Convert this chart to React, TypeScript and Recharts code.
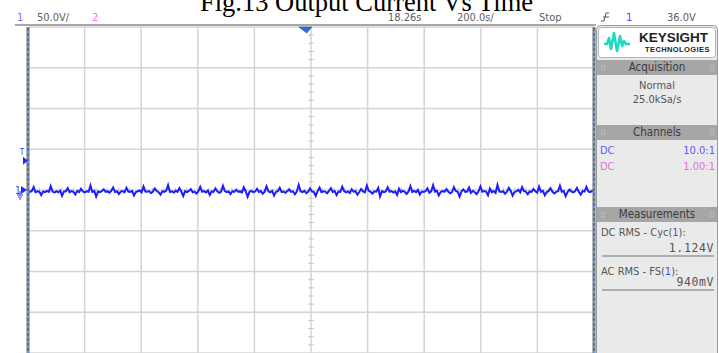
import { LineChart, Line, CartesianGrid, XAxis, YAxis, ReferenceLine, ReferenceDot } from 'recharts';

// scope settings
const timeTicks = [-1000, -800, -600, -400, -200, 0, 200, 400, 600, 800, 1000];
const voltTicks = [-200, -150, -100, -50, 0, 50, 100, 150, 200];
const triggerLevel = 36;
const triggerDelay = -18.26;

// channel 1 trace (V) left to right
const ch1Volts = [
  -1.8, -2.4, -1.2, 3.6, -2.9, -1.5, -2.1, -6.2, -1.7, -2.6,
  -1.0, -2.3, 4.8, -1.9, -3.1, -1.4, -2.7, -0.9, -7.1, -2.0,
  -1.6, 2.2, -2.8, -1.3, -2.2, -5.4, -1.1, -2.5, 1.4, -1.8,
  -3.0, -1.5, -2.1, 5.6, -2.4, -1.2, -8.0, -1.9, -2.6, -1.4,
  0.9, -2.2, -1.7, -3.3, -1.0, 3.1, -2.5, -1.6, -4.9, -2.0,
  -1.3, -2.8, 2.6, -1.9, -2.3, -1.1, -6.6, -2.4, -1.5, -0.6,
  -2.9, 4.2, -1.8, -2.1, -1.4, -3.8, -2.0, 1.8, -1.2, -2.7,
  -5.8, -1.6, -2.3, -0.8, 6.0, -2.5, -1.7, -3.2, -1.0, -2.2,
  2.4, -1.9, -7.5, -1.4, -2.6, -1.1, 1.1, -2.8, -2.0, -4.4,
  -1.5, 3.9, -2.2, -1.3, -2.9, -0.7, -6.1, -1.8, -2.4, 2.0,
  -1.6, -3.5, -2.1, 5.1, -1.2, -2.7, -1.9, -5.0, -1.4, -2.3,
  0.4, -2.0, -1.7, -3.0, 3.3, -1.5, -8.4, -2.2, -1.1, -2.6,
  -1.8, 1.5, -2.4, -1.3, -4.6, -2.0, 4.5, -1.6, -2.8, -1.0,
  -6.9, -2.1, -1.4, 2.8, -2.5, -1.9, -3.4, -1.2, 0.6, -2.3,
  -1.7, -5.2, -2.0, 6.4, -1.5, -2.6, -1.1, -3.9, -2.2, 1.9,
  -1.8, -2.4, -7.3, -1.3, 3.0, -2.7, -1.6, -2.0, -4.1, -1.0,
  2.3, -2.5, -1.4, -6.3, -1.9, -2.2, 4.0, -1.2, -2.8, -1.7,
  -3.6, 0.8, -2.1, -1.5, -5.7, -2.4, 1.3, -1.8, -2.9, 5.4,
  -1.1, -2.3, -4.3, -1.6, -2.0, 2.5, -7.8, -1.4, -2.6, -1.9,
  3.4, -2.2, -1.3, -3.1, -1.7, -6.0, 1.6, -2.5, -1.0, -2.1,
  -4.7, -1.8, 4.7, -2.4, -1.2, -2.7, 0.2, -5.5, -1.9, -2.3,
  -1.5, 2.1, -3.3, -1.6, 5.8, -2.0, -1.1, -6.8, -2.6, -1.4,
  -2.2, 1.0, -1.8, -4.0, -2.5, 3.7, -1.3, -2.1, -8.1, -1.7,
  0.7, -2.4, -1.9, 2.9, -3.5, -1.0, -2.8, -5.1, -1.6, 4.4,
  -2.2, -1.4, -2.0, -6.5, 1.7, -2.7, -1.2, -3.7, 6.2, -1.8,
  -2.3, -1.5, -4.5, -2.1, 2.7, -1.1, -7.0, -2.5, -1.7, 0.3,
  -2.9, 3.5, -1.3, -2.0, -5.3, -1.8, -2.4, 1.2, -1.6, -3.2,
  4.1, -2.2, -1.0, -6.4, -2.6, -1.4, 2.2, -1.9, -4.2, -2.3,
  -1.5, 5.3, -2.1, -1.2, -7.6, -2.7, 0.5, -1.8, -3.0, -1.6,
  2.6, -2.4, -5.6, -1.3, -2.0, 3.8, -1.7, -2.5, -1.1, -2.2,
];

const data = ch1Volts.map((v, i) => ({ t: -1000 + (i * 2000) / (ch1Volts.length - 1), v }));

// 5 minor ticks per division on the centre cross
const minorT: number[] = [];
for (let i = 0; i < timeTicks.length - 1; i++) for (let k = 1; k < 5; k++) minorT.push(timeTicks[i] + (k * 200) / 5);
const minorV: number[] = [];
for (let i = 0; i < voltTicks.length - 1; i++) for (let k = 1; k < 5; k++) minorV.push(voltTicks[i] + (k * 50) / 5);

const scopeFont = "'DejaVu Sans Condensed', 'Liberation Sans Narrow', 'DejaVu Sans', sans-serif";
const monoFont = "'DejaVu Sans Mono', 'Liberation Mono', monospace";

const GroundMarker = (p: any) => (
  <g>
    <text x={p.cx - 13} y={p.cy + 4} fontSize={10} fill="#3b3bff" fontFamily={scopeFont}>1</text>
    <path d={`M${p.cx - 7},${p.cy - 4} L${p.cx - 1},${p.cy} L${p.cx - 7},${p.cy + 4} Z`} fill="#2525ff" />
    <path d={`M${p.cx - 8},${p.cy + 1} L${p.cx - 8},${p.cy + 5} M${p.cx - 11},${p.cy + 5} L${p.cx - 5},${p.cy + 5} M${p.cx - 10},${p.cy + 7} L${p.cx - 6},${p.cy + 7} M${p.cx - 9},${p.cy + 9} L${p.cx - 7},${p.cy + 9}`} stroke="#3b3bff" strokeWidth={1} />
  </g>
);

const TriggerMarker = (p: any) => (
  <g>
    <text x={p.cx - 6} y={p.cy - 6} fontSize={8} fill="#3b3bff" fontFamily={scopeFont} textAnchor="middle">T</text>
    <path d={`M${p.cx - 5},${p.cy - 4} L${p.cx},${p.cy} L${p.cx - 5},${p.cy + 4} Z`} fill="#2525ff" />
  </g>
);

const DelayMarker = (p: any) => (
  <path d={`M${p.cx - 7},${p.cy} L${p.cx + 6},${p.cy} L${p.cx + 1},${p.cy + 6} Z`} fill="#2f6fe0" stroke="#1f4fb0" strokeWidth={0.6} />
);

function Header({ y, label }: { y: number; label: string }) {
  return (
    <g>
      <rect x={597} y={y} width={120} height={15} fill="#a6a6a6" />
      <text x={603} y={y + 11} fontSize={8} fill="#c9c9c9" fontFamily="'DejaVu Sans'" textAnchor="middle">⠿</text>
      <text x={712} y={y + 11} fontSize={8} fill="#c9c9c9" fontFamily="'DejaVu Sans'" textAnchor="middle">⠿</text>
      <text x={657} y={y + 11} fontSize={11.5} fill="#3c3c3c" fontFamily={scopeFont} textAnchor="middle">{label}</text>
    </g>
  );
}

function Overlay() {
  const t = { fontFamily: scopeFont, fontSize: 11 };
  return (
    <svg width={719} height={353} style={{ position: 'absolute', left: 0, top: 0, pointerEvents: 'none' }}>
      <text x={200} y={11} fontFamily="'Liberation Serif', 'Times New Roman', serif" fontSize={26.5} fill="#000">Fig.13 Output Current Vs Time</text>
      <rect x={15} y={24} width={581} height={2} fill="#a8a8a8" />
      <text {...t} x={17} y={21} fill="#7272ff">1</text>
      <text {...t} x={37} y={21} fill="#606060">50.0V/</text>
      <text {...t} x={92} y={21} fill="#ee77ee">2</text>
      <text {...t} x={388} y={21} fill="#606060">18.26s</text>
      <text {...t} x={457} y={21} fill="#606060">200.0s/</text>
      <text {...t} x={539} y={21} fill="#606060">Stop</text>
      <path d="M601,21 L604,21 L606,13 L609,13 M603,17 L609,17" stroke="#555" strokeWidth={1} fill="none" />
      <text {...t} x={626} y={21} fill="#4848ff">1</text>
      <text {...t} x={667} y={21} fill="#606060">36.0V</text>

      <rect x={596.5} y={25.5} width={121} height={332} rx={4} fill="#eaeaea" stroke="#9a9a9a" />
      <rect x={598.5} y={27.5} width={117} height={30} rx={3} fill="#fff" stroke="#b4b4b4" />
      <path d="M604,44 L607,44 L609,38 L611,49 L614,33 L617,51 L620,36 L622,46 L624,41 L626,44 L630,44" stroke="#20d8c2" strokeWidth={2.6} fill="none" strokeLinejoin="round" />
      <text x={639} y={42} fontFamily="'Liberation Sans', Arial, sans-serif" fontWeight="bold" fontSize={13.5} fill="#222">KEYSIGHT</text>
      <text x={645} y={52} fontFamily="'Liberation Sans', Arial, sans-serif" fontWeight="bold" fontSize={7.5} letterSpacing={0.4} fill="#222">TECHNOLOGIES</text>

      <Header y={60} label="Acquisition" />
      <text {...t} x={657} y={89} fill="#555" textAnchor="middle">Normal</text>
      <text {...t} x={657} y={103} fill="#555" textAnchor="middle">25.0kSa/s</text>

      <Header y={125} label="Channels" />
      <text {...t} x={600} y={154} fill="#5a5aff">DC</text>
      <text {...t} x={715} y={154} fill="#5a5aff" textAnchor="end">10.0:1</text>
      <text {...t} x={600} y={170} fill="#e070e0">DC</text>
      <text {...t} x={715} y={170} fill="#e070e0" textAnchor="end">1.00:1</text>

      <Header y={207} label="Measurements" />
      <text {...t} x={601} y={236} fill="#555">DC RMS - Cyc(<tspan fill="#4848ff">1</tspan>):</text>
      <text x={714} y={252} fontFamily={monoFont} fontSize={11.5} letterSpacing={0.6} fill="#555" textAnchor="end">1.124V</text>
      <line x1={602} x2={714} y1={256} y2={256} stroke="#9a9a9a" strokeWidth={1.5} />
      <text {...t} x={601} y={275} fill="#555">AC RMS - FS(<tspan fill="#4848ff">1</tspan>):</text>
      <text x={714} y={286} fontFamily={monoFont} fontSize={11.5} letterSpacing={0.6} fill="#555" textAnchor="end">940mV</text>
      <line x1={602} x2={714} y1={290} y2={290} stroke="#9a9a9a" strokeWidth={1.5} />
    </svg>
  );
}

export default function App() {
  return (
    <div style={{ position: 'fixed', left: 0, top: 0, width: 719, height: 353, background: '#fff', overflow: 'hidden' }}>
      <div style={{ position: 'absolute', left: 0, top: 0 }}>
        <LineChart width={719} height={353} data={data} margin={{ top: 27, right: 125, bottom: 0, left: 28 }}>
          <XAxis dataKey="t" type="number" domain={[-1000, 1000]} ticks={timeTicks} hide />
          <YAxis type="number" domain={[-200, 200]} ticks={voltTicks} hide />
          <CartesianGrid stroke="#d4d4d4" strokeWidth={1.5} />
          {minorV.map((v) => (
            <ReferenceLine key={'mv' + v} segment={[{ x: -10, y: v }, { x: 10, y: v }]} stroke="#c4c4c4" strokeWidth={1} />
          ))}
          {minorT.map((x) => (
            <ReferenceLine key={'mt' + x} segment={[{ x, y: -3 }, { x, y: 3 }]} stroke="#c4c4c4" strokeWidth={1} />
          ))}
          <Line dataKey="v" type="linear" stroke="#1c1cff" strokeWidth={2} dot={false} isAnimationActive={false} />
          <ReferenceLine x={-1000} stroke="#6e6e6e" strokeWidth={3} />
          <ReferenceLine x={-1000} stroke="#5d9ff0" strokeWidth={2} strokeDasharray="2 3" />
          <ReferenceLine x={1000} stroke="#6e6e6e" strokeWidth={3} />
          <ReferenceLine x={1000} stroke="#5d9ff0" strokeWidth={2} strokeDasharray="2 3" />
          <ReferenceDot x={-1000} y={0} r={0} ifOverflow="visible" shape={GroundMarker} />
          <ReferenceDot x={-1000} y={triggerLevel} r={0} ifOverflow="visible" shape={TriggerMarker} />
          <ReferenceDot x={triggerDelay} y={200} r={0} ifOverflow="visible" shape={DelayMarker} />
        </LineChart>
      </div>
      <Overlay />
    </div>
  );
}
